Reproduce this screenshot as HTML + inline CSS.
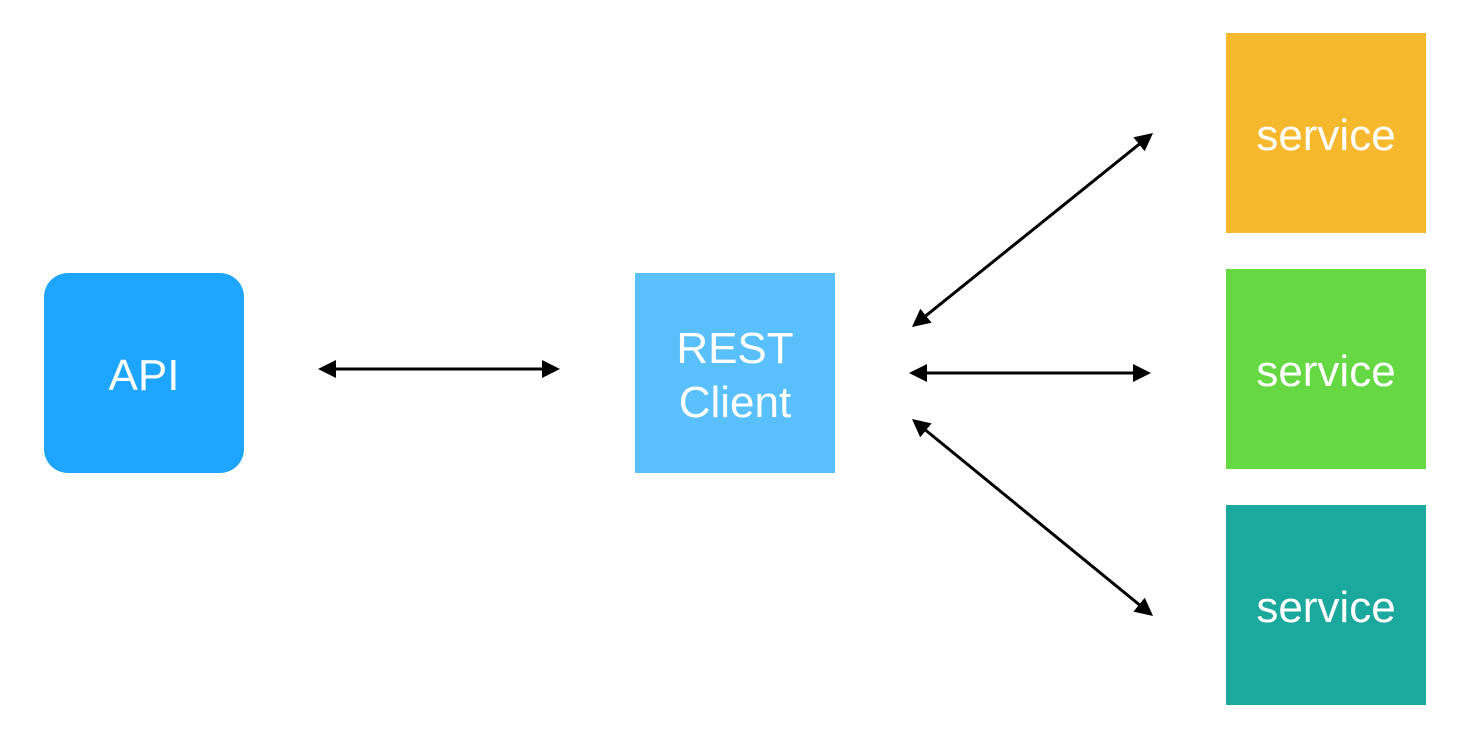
<!DOCTYPE html>
<html><head><style>
body{margin:0;width:1480px;height:750px;background:#fff;position:relative;overflow:hidden;font-family:"Liberation Sans",sans-serif}
.b{position:absolute;width:200px;height:200px;display:flex;align-items:center;justify-content:center;color:#fff;font-size:44px;text-align:center;line-height:54px;padding-top:6px;box-sizing:border-box}
</style></head><body>
<div class="b" style="left:44px;top:273px;background:#1ea5ff;border-radius:24px">API</div>
<div class="b" style="left:635px;top:273px;background:#5ac0fb">REST<br>Client</div>
<div class="b" style="left:1226px;top:33px;background:#f6b82d">service</div>
<div class="b" style="left:1226px;top:269px;background:#65d844">service</div>
<div class="b" style="left:1226px;top:505px;background:#1aa99c">service</div>
<svg width="1480" height="750" style="position:absolute;left:0;top:0">
<defs><marker id="a" markerWidth="6" markerHeight="6" refX="5" refY="3" orient="auto-start-reverse" markerUnits="strokeWidth"><path d="M0,0L6,3L0,6z" fill="#000"/></marker></defs>
<g stroke="#000" stroke-width="3" marker-start="url(#a)" marker-end="url(#a)">
<line x1="321" y1="369" x2="557" y2="369"/>
<line x1="914.3" y1="325.1" x2="1150.7" y2="134.9"/>
<line x1="912" y1="373" x2="1148" y2="373"/>
<line x1="914.3" y1="420.9" x2="1150.7" y2="614.1"/>
</g></svg>
</body></html>
